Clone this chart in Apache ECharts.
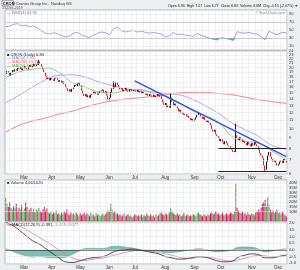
<!DOCTYPE html>
<html><head><meta charset="utf-8">
<script src="https://cdn.jsdelivr.net/npm/echarts@6/dist/echarts.min.js"></script>
<style>html,body{margin:0;padding:0;background:#eceef1}#c{width:300px;height:270px}</style>
</head><body><div id="c"></div>
<script>
const FONT = 'Liberation Sans, Arial, sans-serif';
const startDate = '2019-02-13';
const holidays = ['2019-02-18','2019-04-19','2019-05-27','2019-07-04','2019-09-02','2019-11-28'];
const monthNames = ['Jan','Feb','Mar','Apr','May','Jun','Jul','Aug','Sep','Oct','Nov','Dec'];

const closes = [18.6,19.2,18.8,18.3,18.9,19.4,19.1,19.6,19.3,19.9,
19.7,20.1,19.4,19.8,20.3,19.9,19.6,20.2,20.6,20.0,
20.4,20.9,20.3,20.7,21.2,21.4,20.8,20.2,19.6,
19.0,18.2,17.6,17.9,17.3,17.8,
17.5,17.2,17.7,17.9,17.4,17.0,17.3,16.8,17.1,16.6,
16.1,15.8,15.3,15.6,15.2,15.7,
16.0,16.4,16.2,16.7,16.9,16.3,
15.4,14.9,14.5,14.8,14.3,14.6,14.2,14.7,
14.9,15.2,14.8,15.1,14.7,15.0,15.3,
15.4,15.6,15.1,15.3,14.6,13.8,
14.2,15.1,15.8,16.3,16.0,16.9,16.4,15.9,
15.6,15.8,15.3,15.5,15.9,15.4,15.2,15.6,15.7,15.3,15.5,
15.4,15.2,15.5,15.1,15.3,14.9,15.2,15.0,
14.7,14.9,14.5,14.8,14.6,14.4,14.7,14.3,14.5,14.8,14.4,14.6,
14.0,13.5,13.1,13.4,12.8,13.0,12.7,
14.2,
13.6,13.0,13.3,12.9,12.6,
12.2,12.4,11.9,12.0,11.7,11.8,11.5,11.6,
11.3,11.0,11.2,10.9,11.1,11.4,
11.7,12.0,11.8,11.5,
11.2,11.4,11.0,10.8,11.0,10.7,10.4,
10.0,9.7,9.9,9.4,9.2,
9.0,8.7,8.9,8.6,8.4,8.7,8.5,8.3,8.2,
8.0,7.9,7.7,7.8,
9.3,
9.0,8.8,9.1,8.9,8.6,8.7,
8.5,8.3,8.6,8.4,8.2,8.5,8.3,8.6,8.4,8.2,
7.9,7.6,7.4,7.2,
6.6,6.3,
6.9,7.4,7.7,7.3,
7.1,6.9,7.0,6.8,6.6,6.7,
6.9,7.0,6.8,7.1,6.98,6.83];

const spikeDays = [25, 81, 124, 173, 195];
const spikeHigh = [21.8, 17.1, 15.0, 10.6, 6.6];
const spikeLow  = [20.6, 15.7, 12.7, 7.7, 6.15];

const volumesM = [24,18,15,20,14,12,16,13,18,11,
14,12,17,10,13,20,15,11,12,14,
10,13,9,12,11,14,10,9,12,15,
11,13,9,8,10,7,9,8,11,7,
8,6,9,7,10,8,12,7,6,9,
7,8,6,9,7,5,8,6,7,9,
6,8,7,5,9,6,7,5,8,6,
7,5,6,8,6,7,9,11,10,18,
12,9,10,7,8,6,7,5,6,8,
5,6,7,5,6,4,5,7,6,5,
6,5,7,4,6,5,8,6,5,7,
5,6,4,7,5,6,8,9,7,6,
8,7,6,9,14,10,8,7,6,8,
6,7,5,6,8,5,6,7,5,6,
5,7,6,5,8,9,7,6,5,7,
6,5,7,6,8,9,7,8,10,7,
8,6,7,9,6,7,8,6,7,9,
8,7,10,39,14,11,9,8,10,7,
8,6,9,7,6,8,7,6,9,10,
12,9,14,18,20,22,16,25,17,12,
9,11,8,10,12,8,9,7,10,8,
6,4.66];

const maDays = [0,10,20,30,40,50,60,70,80,90,100,110,120,130,140,150,160,170,180,190,200,211];
const ma20  = [17.8,19.0,19.6,19.9,18.9,16.9,16.0,15.2,15.0,15.4,15.6,15.0,14.5,13.5,12.3,11.6,10.8,9.2,8.7,8.5,7.8,7.05];
const ma50  = [13.4,14.6,16.0,17.4,18.3,18.4,17.9,17.0,16.3,15.7,15.4,15.2,14.9,14.7,14.0,13.0,11.9,10.7,9.9,9.2,8.3,7.95];
const ma200 = [9.6,10.4,10.9,11.3,11.8,12.2,12.8,13.3,13.7,14.0,14.2,14.4,14.7,15.0,15.1,15.1,14.9,14.7,14.3,13.9,13.6,13.33];

const rsiDays = [0,3,6,9,12,15,18,21,24,27,30,33,36,39,42,45,48,51,54,57,60,63,66,69,72,75,78,81,84,87,90,93,96,99,102,105,108,111,114,117,120,123,126,129,132,135,138,141,144,147,150,153,156,159,162,165,168,171,174,177,180,183,186,189,192,195,198,201,204,207,210,211];
const rsi = [58,60,64,66,60,62,58,60,55,48,
42,40,43,41,36,33,35,42,44,38,
34,31,37,42,45,43,38,52,58,48,
45,47,49,45,47,44,42,44,42,40,
33,35,44,38,40,37,36,34,41,37,
33,30,27,25,31,29,27,24,46,43,
42,44,41,40,33,26,47,42,38,43,
44,41.95];

const macdDays = [0,5,10,15,20,25,30,35,40,45,50,55,60,65,70,75,80,85,90,95,100,105,110,115,120,125,130,135,140,145,150,155,160,165,170,175,180,185,190,195,200,205,211];
const macdLine = [2.05,1.85,1.5,1.1,0.7,0.45,0.1,-0.25,-0.6,-0.9,-0.95,-0.85,-0.7,-0.6,-0.55,-0.45,-0.2,-0.05,0.0,0.05,0.0,-0.1,-0.2,-0.3,-0.5,-0.6,-0.7,-0.68,-0.6,-0.5,-0.55,-0.7,-0.85,-0.9,-0.85,-0.55,-0.4,-0.3,-0.35,-0.6,-0.6,-0.5,-0.381];
const macdSignal = [1.95,1.95,1.8,1.55,1.25,0.95,0.65,0.35,0.0,-0.35,-0.6,-0.75,-0.8,-0.72,-0.65,-0.58,-0.45,-0.32,-0.2,-0.1,-0.05,-0.05,-0.1,-0.2,-0.3,-0.4,-0.55,-0.62,-0.62,-0.58,-0.56,-0.6,-0.7,-0.8,-0.85,-0.75,-0.62,-0.5,-0.42,-0.45,-0.52,-0.52,-0.458];

const priceTicks = [6,7,8,9,10,11,12,13,14,15,16,17,18,19,20,21,22,23,24];
const rsiTicks = [10,30,50,70,90];
const volTicksM = [10,15,20,25,30,35,40];
const macdTicks = [2.0,1.5,1.0,0.5,0.0,-0.5,-1.0];

const trendline = [[97, 17.2], [211, 7.3]];
const supportLevels = [8.0, 6.21];
const supportFrom = 160;

// ---- build ----
const N = closes.length;
const dates = [];
{ const d = new Date(startDate + 'T12:00:00Z');
  while (dates.length < N) { const dow = d.getUTCDay(); const s = d.toISOString().slice(0,10);
    if (dow !== 0 && dow !== 6 && !holidays.includes(s)) dates.push(s);
    d.setUTCDate(d.getUTCDate() + 1); } }
const isMonthStart = i => i > 0 && dates[i].slice(5,7) !== dates[i-1].slice(5,7);
const isWeekStart = i => i > 0 && new Date(dates[i]+'T12:00:00Z').getUTCDay() < new Date(dates[i-1]+'T12:00:00Z').getUTCDay();

const candles = closes.map((c,i) => { const o = i ? closes[i-1] : c; let lo = Math.min(o,c), hi = Math.max(o,c);
  const k = spikeDays.indexOf(i); if (k >= 0) { hi = spikeHigh[k]; lo = spikeLow[k]; } return [o,c,lo,hi]; });
const sparse = (days, vals) => { const a = new Array(N).fill(null); days.forEach((d,k) => a[d] = vals[k]); return a; };
const volData = volumesM.map((v,i) => ({ value: v, itemStyle: { color: (i && closes[i] < closes[i-1]) ? '#c42a5c' : '#5f9f5f' } }));
const nulls = new Array(N).fill(null);
const histVals = macdLine.map((m,k) => +(m - macdSignal[k]).toFixed(3));
const rsiLow = rsi.map(v => Math.min(v, 30));

function xa(g, show) { return { type:'category', gridIndex:g, data:dates, boundaryGap:true,
  axisLine:{show:false}, axisTick:{show:false},
  axisLabel:{show:show, interval:(i)=>isMonthStart(i), formatter:(v)=>monthNames[+v.slice(5,7)-1],
    fontSize:4.5, color:'#333', margin:1.2, align:'left', fontFamily:FONT},
  splitLine:{show:true, interval:(i)=>isWeekStart(i), lineStyle:{color:'#e2e6ec', width:0.6}} }; }
const tickLabel = { show:true, position:'end', fontSize:4, color:'#333', distance:2, fontFamily:FONT };
function ticks(vals, fmt, gridColor, special) { return vals.map(v => ({ yAxis:v,
  lineStyle:{ color: (special && special[v]) || gridColor, width:0.6, type:'solid' },
  label:Object.assign({}, tickLabel, { formatter: fmt(v) }) })); }
function tag(v, text, bg, border, color) { return { yAxis:v, lineStyle:{width:0, opacity:0},
  label:{ show:true, position:'end', formatter:text, backgroundColor:bg, borderColor:border, borderWidth:0.5,
    padding:[0.5,1,0,1], color:color, fontSize:4, distance:1, fontFamily:FONT } }; }
const mlBase = { symbol:['none','none'], silent:true, animation:false };
function helper(xi, yi, data, z) { return { type:'line', xAxisIndex:xi, yAxisIndex:yi, data:nulls, z:z, silent:true,
  markLine:Object.assign({}, mlBase, { data:data }) }; }

const grids = [
  { left:5, right:13, top:10, height:40 },
  { left:5, right:13, top:51, height:123 },
  { left:5, right:13, top:180, height:41 },
  { left:5, right:13, top:222, height:42 }
].map(g => Object.assign(g, { show:true, backgroundColor:'#ffffff', borderColor:'#8d9299', borderWidth:0.6 }));

const hideY = { axisLabel:{show:false}, axisLine:{show:false}, axisTick:{show:false}, splitLine:{show:false} };

const option = {
  animation:false,
  backgroundColor:'#eceef1',
  textStyle:{fontFamily:FONT},
  grid:grids,
  xAxis:[xa(0,false), xa(1,true), xa(2,false), xa(3,true)],
  yAxis:[
    Object.assign({ type:'value', gridIndex:0, min:0, max:100 }, hideY),
    Object.assign({ type:'log', gridIndex:1, min:6.0, max:24.1, logBase:10 }, hideY),
    Object.assign({ type:'value', gridIndex:2, min:0, max:43 }, hideY),
    Object.assign({ type:'value', gridIndex:3, min:-1.05, max:2.1 }, hideY)
  ],
  series:[
    // RSI
    helper(0,0, ticks(rsiTicks, v=>String(v), '#e2e6ec', {30:'#a9adb3', 70:'#a9adb3'}), 1),
    { type:'line', xAxisIndex:0, yAxisIndex:0, data:sparse(rsiDays, rsiLow), connectNulls:true, showSymbol:false,
      lineStyle:{width:0}, areaStyle:{origin:30, color:'#5aa99a', opacity:0.9}, z:2, silent:true },
    { type:'line', xAxisIndex:0, yAxisIndex:0, data:sparse(rsiDays, rsi), connectNulls:true, showSymbol:false,
      lineStyle:{width:0.8, color:'#8b8bd3'}, z:3, silent:true,
      markLine:Object.assign({}, mlBase, { data:[ tag(rsi[rsi.length-1], String(rsi[rsi.length-1]), '#d7d7f3', '#8b8bd3', '#222') ] }) },
    // Price
    helper(1,1, ticks(priceTicks, v=>String(v), '#e2e6ec'), 1),
    { type:'line', xAxisIndex:1, yAxisIndex:1, data:sparse(maDays, ma200), connectNulls:true, smooth:true, showSymbol:false,
      lineStyle:{width:0.9, color:'#ea7474'}, z:3, silent:true },
    { type:'line', xAxisIndex:1, yAxisIndex:1, data:sparse(maDays, ma50), connectNulls:true, smooth:true, showSymbol:false,
      lineStyle:{width:0.8, color:'#9393dc'}, z:3, silent:true },
    { type:'line', xAxisIndex:1, yAxisIndex:1, data:sparse(maDays, ma20), connectNulls:true, smooth:true, showSymbol:false,
      lineStyle:{width:0.8, color:'#7cb97c'}, z:3, silent:true },
    { type:'candlestick', xAxisIndex:1, yAxisIndex:1, data:candles, barWidth:'90%', z:4, silent:true,
      itemStyle:{ color:'#1a1a1a', borderColor:'#1a1a1a', color0:'#e3262b', borderColor0:'#e3262b', borderWidth:1.1 } },
    { type:'line', xAxisIndex:1, yAxisIndex:1, data:nulls, z:5, silent:true,
      markLine:Object.assign({}, mlBase, { label:{show:false}, data:[
        [ { coord:[dates[trendline[0][0]], trendline[0][1]] }, { coord:[dates[trendline[1][0]], trendline[1][1]], lineStyle:{color:'#2f4ff0', width:1.4, type:'solid'} } ],
        [ { coord:[dates[supportFrom], supportLevels[0]] }, { coord:[dates[N-1], supportLevels[0]], lineStyle:{color:'#222', width:1, type:'solid'} } ],
        [ { coord:[dates[supportFrom], supportLevels[1]] }, { coord:[dates[N-1], supportLevels[1]], lineStyle:{color:'#222', width:1, type:'solid'} } ]
      ] }) },
    { type:'line', xAxisIndex:1, yAxisIndex:1, data:nulls, z:6, silent:true,
      markLine:Object.assign({}, mlBase, { data:[
        tag(ma200[ma200.length-1], ma200[ma200.length-1].toFixed(2), '#ffffff', '#ef8a8a', '#d04040'),
        tag(ma50[ma50.length-1], ma50[ma50.length-1].toFixed(2), '#d7d7f3', '#9393dc', '#222'),
        tag(ma20[ma20.length-1], ma20[ma20.length-1].toFixed(2), '#cfe8cf', '#7cb97c', '#222'),
        tag(closes[N-1], closes[N-1].toFixed(2), '#ffffff', '#333', '#222')
      ] }) },
    // Volume
    helper(2,2, ticks(volTicksM, v=>v+'M', '#e2e6ec'), 1),
    { type:'bar', xAxisIndex:2, yAxisIndex:2, data:volData, barWidth:'80%', z:3, silent:true,
      markLine:Object.assign({}, mlBase, { data:[ tag(volumesM[N-1], volumesM[N-1]+'M', '#e4e6ea', '#999', '#222') ] }) },
    // MACD
    helper(3,3, ticks(macdTicks, v=>v.toFixed(1), '#e2e6ec', {0:'#333'}), 1),
    { type:'line', xAxisIndex:3, yAxisIndex:3, data:sparse(macdDays, histVals), connectNulls:true, smooth:true, showSymbol:false,
      lineStyle:{width:0.5, color:'#4f9f90'}, areaStyle:{origin:0, color:'#6bb3a5', opacity:0.85}, z:2, silent:true },
    { type:'line', xAxisIndex:3, yAxisIndex:3, data:sparse(macdDays, macdSignal), connectNulls:true, smooth:true, showSymbol:false,
      lineStyle:{width:0.8, color:'#e0779d'}, z:3, silent:true },
    { type:'line', xAxisIndex:3, yAxisIndex:3, data:sparse(macdDays, macdLine), connectNulls:true, smooth:true, showSymbol:false,
      lineStyle:{width:0.8, color:'#222'}, z:4, silent:true,
      markLine:Object.assign({}, mlBase, { data:[
        tag(histVals[histVals.length-1], histVals[histVals.length-1].toFixed(3), '#cfe8e2', '#4f9f90', '#222'),
        tag(macdLine[macdLine.length-1], macdLine[macdLine.length-1].toFixed(3), '#ffffff', '#333', '#222'),
        tag(macdSignal[macdSignal.length-1], macdSignal[macdSignal.length-1].toFixed(3), '#f6d3e0', '#e0779d', '#222')
      ] }) }
  ],
  graphic:[]
};

const T = (x, y, text, size, fill, extra) => ({ type:'text', x:x, y:y, silent:true, z:100,
  style:Object.assign({ text:text, fontSize:size, fill:fill, fontFamily:FONT, verticalAlign:'top' }, extra || {}) });
option.graphic = [
  { type:'rect', shape:{x:2, y:0.8, width:11.5, height:5}, style:{fill:'#fff', stroke:'#444', lineWidth:0.5}, silent:true, z:99 },
  T(2.8, 1.4, 'CRON', 4, '#111', {fontWeight:'bold'}),
  T(16, 1.4, 'Cronos Group Inc.  Nasdaq GS', 4, '#333'),
  T(2, 6.2, '13-Dec-2019', 3.6, '#555'),
  T(298, 3.5, 'Open 6.96  High 7.07  Low 6.77  Close 6.83  Volume 4.6M  Chg -0.15 (-2.07%) \u25BC', 3.6, '#222', {align:'right'}),
  T(7, 11, '\u2014 RSI(14) 41.95', 4, '#6f6fc0'),
  T(285, 11.5, '\u00A9 StockCharts.com', 3.4, '#888', {align:'right'}),
  T(7, 52.5, '\u25A0 CRON (Daily) 6.83', 4, '#222'),
  T(7, 56.2, '\u2014 MA(50) 7.95', 4, '#7b7bd0'),
  T(7, 59.9, '\u2014 MA(200) 13.33', 4, '#e06060'),
  T(7, 63.6, '\u2014 MA(20) 7.05', 4, '#3f9a3f'),
  T(7, 181.2, '\u25A0 Volume 4,663,020', 4, '#333'),
  T(7, 223.2, '{a|\u2014 MACD(12,26,9)} {a|-0.381,} {b|-0.458,} {c|0.077}', 4, '#222',
    { rich:{ a:{fill:'#222', fontSize:4, fontFamily:FONT}, b:{fill:'#e0779d', fontSize:4, fontFamily:FONT}, c:{fill:'#3f9a88', fontSize:4, fontFamily:FONT} } })
];

const chart = echarts.init(document.getElementById('c'), null, { renderer:'canvas' });
chart.setOption(option);
</script></body></html>
